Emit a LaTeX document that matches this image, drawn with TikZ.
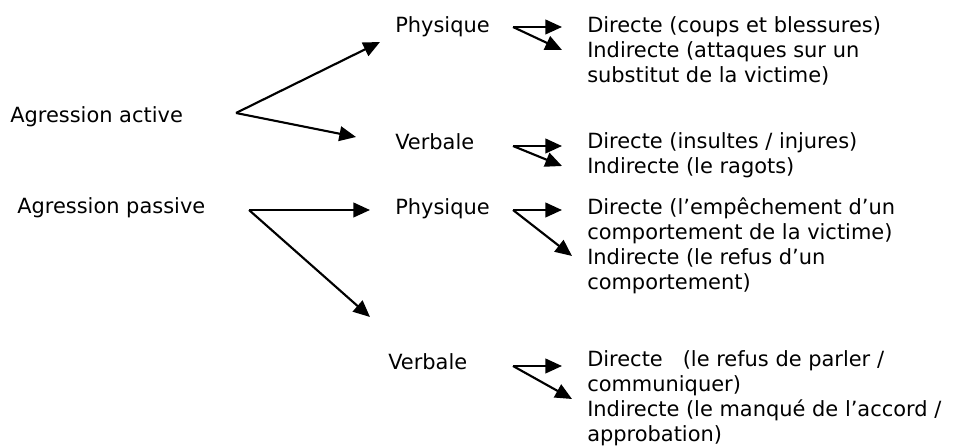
\documentclass[tikz,border=0pt]{standalone}
\usepackage{fontspec}
\setmainfont{DejaVu Sans}
\usetikzlibrary{arrows.meta}
\begin{document}
\begin{tikzpicture}[x=0.75pt, y=-0.75pt, font=\fontsize{15.7pt}{18.75pt}\selectfont,
    lbl/.style={anchor=base west, inner sep=0pt},
    txt/.style={anchor=base west, inner sep=0pt, align=left},
    arr/.style={-{Triangle[length=12.5pt,width=11pt]}, line width=1.6pt}]
    \useasboundingbox (0,0) rectangle (957,448);
    \node (active) [lbl] at (10,123) {Agression active};
    \node (passive) [lbl] at (17,214) {Agression passive};
    \node (physique1) [lbl] at (395,33) {Physique};
    \node (verbale1) [lbl] at (395,150) {Verbale};
    \node (physique2) [lbl] at (395,215) {Physique};
    \node (verbale2) [lbl] at (388,370) {Verbale};
    \node (detail1) [txt] at (587,83) {Directe (coups et blessures)\\Indirecte (attaques sur un\\substitut de la victime)};
    \node (detail2) [txt] at (587,174) {Directe (insultes / injures)\\Indirecte (le ragots)};
    \node (detail3) [txt] at (587,290) {Directe (l’empêchement d’un\\comportement de la victime)\\Indirecte (le refus d’un\\comportement)};
    \node (detail4) [txt] at (587,442) {Directe\ \ \ (le refus de parler /\\communiquer)\\Indirecte (le manqué de l’accord /\\approbation)};

    \coordinate (fork1) at (236,113);
    \coordinate (tip1a) at (380,42);
    \coordinate (tip1b) at (356,137);
    \coordinate (fork2) at (249,210);
    \coordinate (tip2a) at (370,210);
    \coordinate (tip2b) at (370,317);
    \coordinate (fork3) at (513,27);
    \coordinate (tip3a) at (562,27);
    \coordinate (tip3b) at (562,50);
    \coordinate (fork4) at (513,146);
    \coordinate (tip4a) at (562,146);
    \coordinate (tip4b) at (562,166);
    \coordinate (fork5) at (513,210);
    \coordinate (tip5a) at (562,210);
    \coordinate (tip5b) at (572,256);
    \coordinate (fork6) at (513,366);
    \coordinate (tip6a) at (562,366);
    \coordinate (tip6b) at (572,399);

    \draw[arr] (fork1) -- (tip1a);
    \draw[arr] (fork1) -- (tip1b);
    \draw[arr] (fork2) -- (tip2a);
    \draw[arr] (fork2) -- (tip2b);
    \draw[arr] (fork3) -- (tip3a);
    \draw[arr] (fork3) -- (tip3b);
    \draw[arr] (fork4) -- (tip4a);
    \draw[arr] (fork4) -- (tip4b);
    \draw[arr] (fork5) -- (tip5a);
    \draw[arr] (fork5) -- (tip5b);
    \draw[arr] (fork6) -- (tip6a);
    \draw[arr] (fork6) -- (tip6b);
\end{tikzpicture}
\end{document}
